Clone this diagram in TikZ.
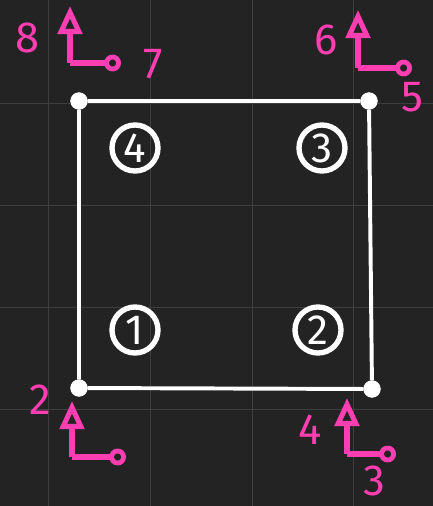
\documentclass[tikz,border=0pt]{standalone}
\usepackage{fontspec}
\setmainfont{Fira Sans}
\usetikzlibrary{arrows.meta}
\definecolor{board}{RGB}{35,35,35}
\definecolor{boardgrid}{RGB}{62,62,60}
\definecolor{chalkpink}{RGB}{255,62,178}
\begin{document}
\begin{tikzpicture}[
        x=0.025cm, y=-0.025cm,
        corner/.style={circle, fill=white, draw=white, inner sep=0pt, minimum size=0.42cm},
        wheel/.style={circle, draw=white, line width=3.8pt, text=white, inner sep=0pt, minimum size=1.15cm, font=\fontsize{30}{30}\selectfont},
        tag/.style={text=chalkpink, inner sep=0pt, font=\fontsize{31}{31}\selectfont},
        upaxis/.style={draw=chalkpink, line width=4.6pt, -{Triangle[open, length=0.7cm, width=0.6cm, line width=3.6pt]}},
        sideaxis/.style={draw=chalkpink, line width=4.6pt, -{Circle[open, length=0.42cm, line width=3.4pt]}}
    ]
        % chalkboard and its faint grid
        \fill[board] (0,0) rectangle (433,506);
        \useasboundingbox (0,0) rectangle (433,506);
        \draw[boardgrid, line width=0.6pt] (48,0) -- (48,506) (150,0) -- (150,506) (252,0) -- (252,506) (353,0) -- (353,506);
        \draw[boardgrid, line width=0.6pt] (0,103) -- (433,103) (0,205) -- (433,205) (0,307) -- (433,307) (0,409) -- (433,409);

        % frame
        \node[corner] (tl) at (79,101) {};
        \node[corner] (tr) at (369,101) {};
        \node[corner] (br) at (372,389) {};
        \node[corner] (bl) at (79,388) {};
        \draw[white, line width=2.8pt] (tl) -- (tr) -- (br) -- (bl) -- (tl);

        \node[wheel] (w4) at (135,148) {4};
        \node[wheel] (w3) at (322,148) {3};
        \node[wheel] (w1) at (135,330) {1};
        \node[wheel] (w2) at (318,330) {2};

        % pink axes at the corners
        \coordinate (otl) at (70,63);
        \coordinate (utl) at (70,6);
        \coordinate (stl) at (121,63);
        \draw[upaxis] (otl) -- (utl);
        \draw[sideaxis] (otl) -- (stl);
        \node[tag] (n8) at (28,38) {8};
        \node[tag] (n7) at (153,64) {7};

        \coordinate (otr) at (358,68);
        \coordinate (utr) at (358,10);
        \coordinate (str) at (412,68);
        \draw[upaxis] (otr) -- (utr);
        \draw[sideaxis] (otr) -- (str);
        \node[tag] (n6) at (326,40) {6};
        \node[tag] (n5) at (412,97) {5};

        \coordinate (obl) at (72,457);
        \coordinate (ubl) at (72,401);
        \coordinate (sbl) at (126,457);
        \draw[upaxis] (obl) -- (ubl);
        \draw[sideaxis] (obl) -- (sbl);
        \node[tag] (n2) at (40,400) {2};

        \coordinate (obr) at (347,454);
        \coordinate (ubr) at (347,398);
        \coordinate (sbr) at (396,454);
        \draw[upaxis] (obr) -- (ubr);
        \draw[sideaxis] (obr) -- (sbr);
        \node[tag] (n4) at (310,430) {4};
        \node[tag] (n3) at (374,481) {3};
    \end{tikzpicture}
\end{document}
